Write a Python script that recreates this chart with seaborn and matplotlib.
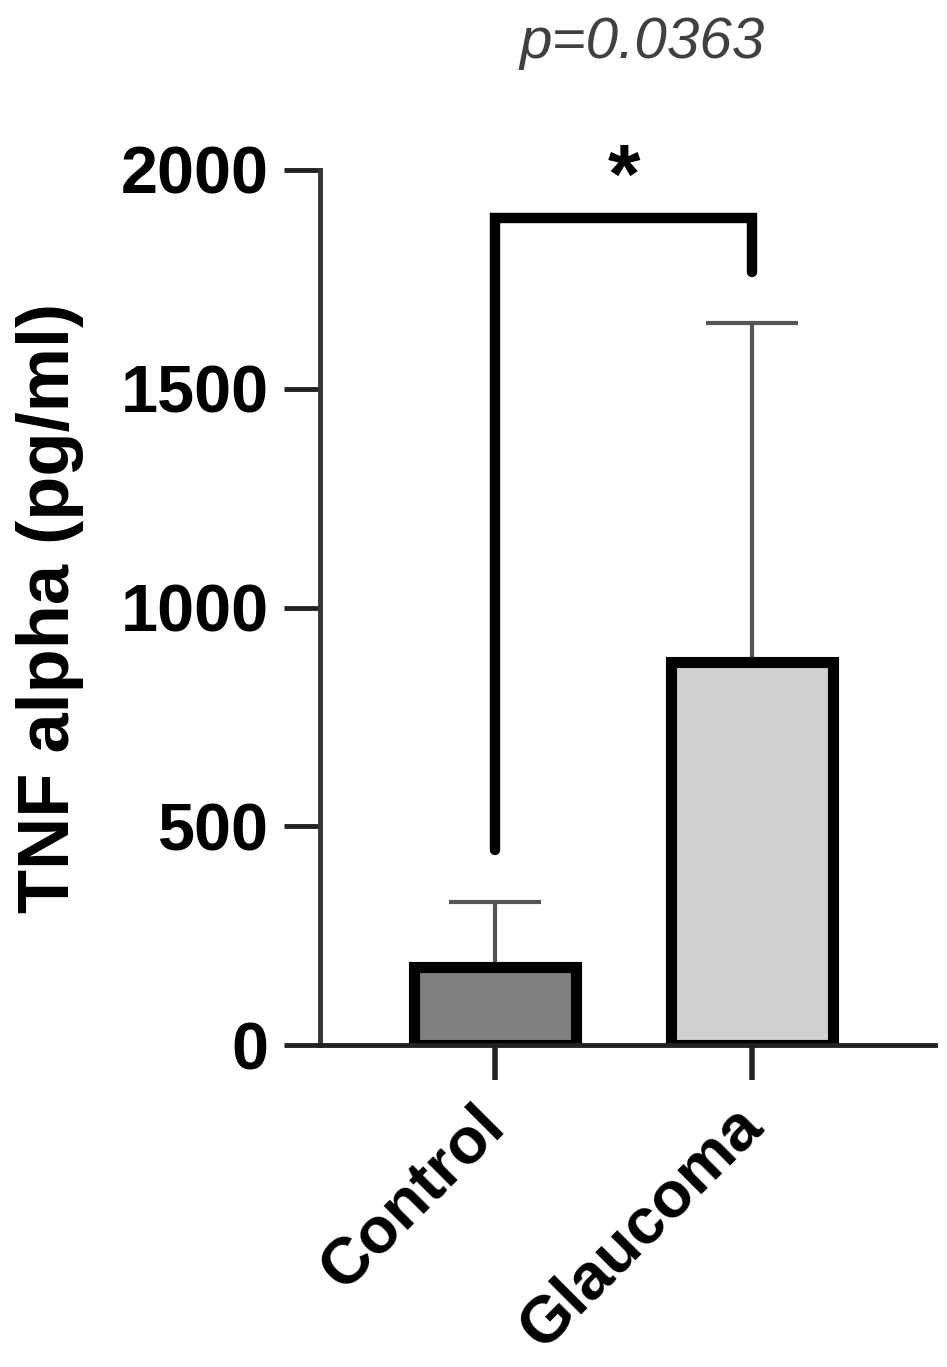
import numpy as np
import pandas as pd
from matplotlib import pyplot as plt
import seaborn as sns

# data
groups = ["Control", "Glaucoma"]
means = [178, 876]
sd_upper = [150, 775]
bar_colors = ["#808080", "#d0d0d0"]
yticks = [0, 500, 1000, 1500, 2000]
p_text = "p=0.0363"
bracket_left = 446
bracket_top = 1890
bracket_right = 1767

sns.set_style("ticks")
plt.rcParams['font.family'] = ['Liberation Sans', 'DejaVu Sans']
plt.rcParams['text.color'] = 'black'
plt.rcParams['axes.labelcolor'] = 'black'
plt.rcParams['xtick.labelcolor'] = 'black'
plt.rcParams['ytick.labelcolor'] = 'black'

df = pd.DataFrame({"group": groups, "tnf": means})

fig = plt.figure(figsize=(9.47, 13.67), dpi=100)
ax = fig.add_axes([320/947, 1 - 1045/1367, 615/947, 875/1367])

sns.barplot(data=df, x="group", y="tnf", hue="group", palette=bar_colors,
            width=0.63, edgecolor="black", linewidth=8, legend=False, ax=ax, zorder=3)

# upper-only error bars (SD)
ax.errorbar(x=np.arange(len(groups)), y=means, yerr=[np.zeros(len(groups)), sd_upper],
            fmt="none", ecolor="#555555", elinewidth=3, capsize=33, capthick=3, zorder=2)

ax.set_xlim(-0.68, 1.71)
ax.set_ylim(0, 2000)
ax.set_yticks(yticks)
ax.set_yticklabels([str(v) for v in yticks], fontsize=48, fontweight="bold")
ax.set_xticks(range(len(groups)))
ax.set_xticklabels(groups, fontsize=47, fontweight="bold", rotation=45,
                   ha="right", va="center", rotation_mode="anchor")
ax.set_xlabel("")
ax.set_ylabel("TNF alpha (pg/ml)", fontsize=52, fontweight="bold")
ax.yaxis.set_label_coords(-0.384, 0.5)

ax.tick_params(axis="y", length=26, width=3.5, color="#222222", pad=11)
ax.tick_params(axis="x", length=25, width=4, color="#222222", pad=26)
for s in ["top", "right"]:
    ax.spines[s].set_visible(False)
ax.spines["left"].set_linewidth(3.5)
ax.spines["left"].set_color("#333333")
ax.spines["bottom"].set_linewidth(3.5)
ax.spines["bottom"].set_color("#222222")
ax.spines["bottom"].set_zorder(4)

# significance bracket
ax.plot([0, 0, 1, 1], [bracket_left, bracket_top, bracket_top, bracket_right],
        color="black", linewidth=7.5, solid_joinstyle="miter", clip_on=False, zorder=5)
ax.text(0.5, 1975, "*", ha="center", va="center", fontsize=60, fontweight="bold",
        clip_on=False)
ax.text(0.57, 2290, p_text, ha="center", va="center", fontsize=42, style="italic",
        color="#404040", clip_on=False)

plt.savefig("out.png", dpi=100)
